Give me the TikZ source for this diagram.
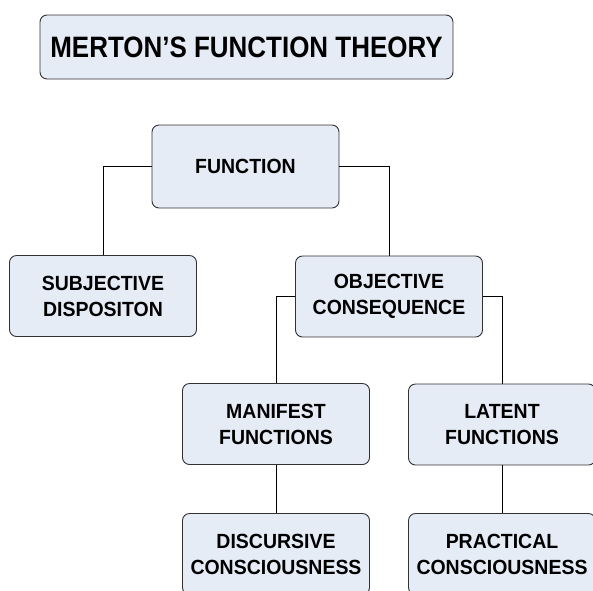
\documentclass[tikz,border=0pt]{standalone}
\usepackage{fontspec}
\setmainfont{Liberation Sans}
\newfontfamily\boxfont{Liberation Sans}[FakeStretch=0.95]
\newfontfamily\titlefont{Liberation Sans}[FakeStretch=0.88]
\definecolor{boxfill}{RGB}{230,236,246}
\definecolor{boxline}{RGB}{50,50,50}
\begin{document}
\begin{tikzpicture}[x=1pt,y=1pt,yscale=-1,xscale=1,
    box/.style={draw=boxline,line width=0.9pt,fill=boxfill,rounded corners=7pt,
      minimum width=187pt,minimum height=81pt,inner sep=0pt,align=center,
      font=\boxfont\fontsize{20.5}{26}\selectfont\bfseries},
    titlebox/.style={box,minimum width=413pt,minimum height=64pt,
      font=\titlefont\fontsize{29.5}{32}\selectfont\bfseries},
    link/.style={draw=black,line width=0.8pt}]
    \useasboundingbox (0,0) rectangle (593,590);
    \clip (0,0) rectangle (593,590);

    % Title
    \node [titlebox] (title) at (246.5,47) {MERTON’S FUNCTION THEORY};

    % Boxes
    \node [box,minimum height=83pt] (function) at (245.5,166.5) {FUNCTION};
    \node [box] (subjective) at (103,296) {SUBJECTIVE\\DISPOSITON};
    \node [box] (objective) at (389,296.5) {OBJECTIVE\\CONSEQUENCE};
    \node [box] (manifest) at (276,424) {MANIFEST\\FUNCTIONS};
    \node [box] (latent) at (502,424.5) {LATENT\\FUNCTIONS};
    \node [box] (discursive) at (276,554) {DISCURSIVE\\CONSCIOUSNESS};
    \node [box] (practical) at (502,554) {PRACTICAL\\CONSCIOUSNESS};

    % Connectors
    \draw [link] (function.west) -| (subjective.north);
    \draw [link] (function.east) -| (objective.north);
    \draw [link] (objective.west) -| (manifest.north);
    \draw [link] (objective.east) -| (latent.north);
    \draw [link] (manifest.south) -- (discursive.north);
    \draw [link] (latent.south) -- (practical.north);

\end{tikzpicture}
\end{document}
